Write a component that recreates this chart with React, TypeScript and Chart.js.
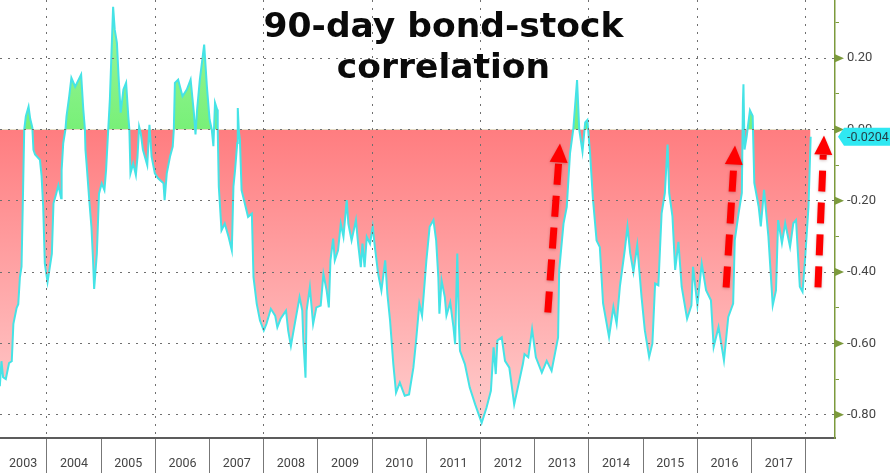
import React, { useRef, useEffect } from 'react';
import { Chart, registerables } from 'chart.js';

Chart.register(...registerables);

const WIDTH = 890;
const HEIGHT = 473;

// dates as decimal years
const dates = [
  2003.13, 2003.16, 2003.19, 2003.24, 2003.30, 2003.35, 2003.38, 2003.44, 2003.47, 2003.50, 2003.53, 2003.56, 2003.58,
  2003.61, 2003.66, 2003.69, 2003.73, 2003.75, 2003.78, 2003.87, 2003.90, 2003.93, 2003.96, 2004.01, 2004.09, 2004.12,
  2004.17, 2004.21, 2004.26, 2004.27, 2004.30, 2004.34, 2004.36, 2004.41, 2004.45, 2004.52, 2004.63, 2004.67, 2004.70,
  2004.71, 2004.73, 2004.78, 2004.82, 2004.85, 2004.87, 2004.92, 2004.96, 2005.01, 2005.06, 2005.09, 2005.13, 2005.16,
  2005.22, 2005.25, 2005.29, 2005.32, 2005.36, 2005.41, 2005.46, 2005.50, 2005.52, 2005.54, 2005.59, 2005.64, 2005.67,
  2005.70, 2005.73, 2005.77, 2005.85, 2005.89, 2005.93, 2005.99, 2006.05, 2006.15, 2006.17, 2006.21, 2006.27, 2006.32,
  2006.34, 2006.36, 2006.42, 2006.50, 2006.58, 2006.65, 2006.71, 2006.74, 2006.77, 2006.82, 2006.90, 2006.95, 2007.00,
  2007.04, 2007.07, 2007.10, 2007.14, 2007.15, 2007.17, 2007.22, 2007.28, 2007.35, 2007.41, 2007.44, 2007.47, 2007.51,
  2007.52, 2007.54, 2007.56, 2007.59, 2007.62, 2007.71, 2007.78, 2007.81, 2007.87, 2007.93, 2008.00, 2008.05, 2008.13,
  2008.21, 2008.25, 2008.31, 2008.41, 2008.45, 2008.50, 2008.56, 2008.66, 2008.71, 2008.73, 2008.77, 2008.79, 2008.85,
  2008.91, 2008.97, 2009.05, 2009.10, 2009.16, 2009.20, 2009.23, 2009.28, 2009.31, 2009.37, 2009.42, 2009.47, 2009.53,
  2009.56, 2009.62, 2009.70, 2009.74, 2009.79, 2009.82, 2009.86, 2009.90, 2009.96, 2010.01, 2010.05, 2010.11, 2010.17,
  2010.24, 2010.28, 2010.33, 2010.39, 2010.44, 2010.51, 2010.60, 2010.68, 2010.76, 2010.81, 2010.87, 2010.92, 2011.00,
  2011.06, 2011.13, 2011.18, 2011.22, 2011.24, 2011.28, 2011.34, 2011.37, 2011.44, 2011.50, 2011.53, 2011.57, 2011.60,
  2011.62, 2011.71, 2011.80, 2011.90, 2012.02, 2012.11, 2012.19, 2012.24, 2012.28, 2012.31, 2012.39, 2012.45, 2012.53,
  2012.62, 2012.70, 2012.78, 2012.81, 2012.88, 2012.95, 2013.02, 2013.13, 2013.22, 2013.31, 2013.37, 2013.43, 2013.45,
  2013.53, 2013.59, 2013.65, 2013.71, 2013.78, 2013.82, 2013.88, 2013.93, 2013.97, 2014.02, 2014.07, 2014.14, 2014.20,
  2014.26, 2014.37, 2014.45, 2014.51, 2014.57, 2014.66, 2014.71, 2014.76, 2014.82, 2014.89, 2014.97, 2015.03, 2015.11,
  2015.17, 2015.22, 2015.28, 2015.34, 2015.40, 2015.45, 2015.48, 2015.54, 2015.59, 2015.65, 2015.71, 2015.81, 2015.89,
  2015.92, 2016.00, 2016.08, 2016.16, 2016.25, 2016.30, 2016.39, 2016.45, 2016.49, 2016.57, 2016.66, 2016.69, 2016.76,
  2016.82, 2016.84, 2016.85, 2016.87, 2016.91, 2016.97, 2017.02, 2017.05, 2017.13, 2017.17, 2017.23, 2017.31, 2017.39,
  2017.45, 2017.49, 2017.56, 2017.62, 2017.71, 2017.77, 2017.82, 2017.89, 2017.94, 2017.99, 2018.05, 2018.09,
];

const corr = [
  -0.72, -0.65, -0.695, -0.70, -0.655, -0.65, -0.545, -0.50, -0.49, -0.415, -0.385, -0.16, 0,
  0.037, 0.064, 0.03, 0.005, -0.057, -0.07, -0.085, -0.13, -0.217, -0.376, -0.428, -0.348, -0.207,
  -0.18, -0.156, -0.193, -0.114, -0.038, 0, 0.037, 0.093, 0.145, 0.12, 0.154, 0.056, 0,
  -0.057, -0.095, -0.198, -0.273, -0.367, -0.447, -0.348, -0.18, -0.151, -0.17, -0.114, 0, 0.084,
  0.344, 0.28, 0.243, 0.15, 0.047, 0.112, 0.131, 0.037, 0, -0.123, -0.095, -0.128, -0.076,
  0.008, -0.01, -0.057, -0.10, 0.013, -0.076, -0.123, -0.137, -0.151, -0.198, -0.123, -0.076, -0.048,
  0, 0.131, 0.14, 0.093, 0.112, 0.14, 0.047, -0.014, 0.056, 0.14, 0.238, 0.121, 0.028,
  0, -0.047, 0.075, 0.056, 0, -0.16, -0.283, -0.264, -0.301, -0.339, -0.16, -0.114, -0.038,
  0.06, -0.005, -0.03, -0.17, -0.189, -0.245, -0.236, -0.414, -0.489, -0.536, -0.564, -0.545, -0.503,
  -0.522, -0.555, -0.531, -0.508, -0.564, -0.607, -0.555, -0.47, -0.508, -0.592, -0.696, -0.508, -0.442,
  -0.546, -0.499, -0.494, -0.405, -0.452, -0.499, -0.367, -0.306, -0.367, -0.339, -0.264, -0.301, -0.198,
  -0.264, -0.311, -0.254, -0.32, -0.386, -0.32, -0.386, -0.301, -0.32, -0.273, -0.33, -0.405, -0.452,
  -0.367, -0.461, -0.536, -0.658, -0.738, -0.71, -0.747, -0.743, -0.668, -0.592, -0.489, -0.522, -0.367,
  -0.273, -0.254, -0.311, -0.414, -0.517, -0.423, -0.47, -0.522, -0.485, -0.555, -0.602, -0.348, -0.546,
  -0.621, -0.658, -0.724, -0.771, -0.823, -0.78, -0.733, -0.611, -0.686, -0.592, -0.583, -0.649, -0.668,
  -0.771, -0.715, -0.658, -0.63, -0.639, -0.56, -0.639, -0.682, -0.649, -0.677, -0.63, -0.583, -0.395,
  -0.264, -0.217, -0.067, 0, 0.139, 0, -0.062, 0.02, 0.027, -0.067, -0.189, -0.311, -0.33,
  -0.488, -0.582, -0.498, -0.545, -0.441, -0.338, -0.272, -0.347, -0.40, -0.324, -0.47, -0.563, -0.638,
  -0.60, -0.432, -0.437, -0.235, -0.178, -0.042, -0.178, -0.244, -0.394, -0.315, -0.441, -0.531, -0.493,
  -0.385, -0.493, -0.376, -0.451, -0.479, -0.61, -0.554, -0.61, -0.648, -0.526, -0.488, -0.31, -0.235,
  -0.178, 0.075, 0.127, -0.056, -0.019, 0.054, 0.038, -0.15, -0.216, -0.272, -0.169, -0.30, -0.493,
  -0.451, -0.254, -0.319, -0.263, -0.329, -0.263, -0.254, -0.441, -0.455, -0.357, -0.216, -0.0204,
];

const years = [2003, 2004, 2005, 2006, 2007, 2008, 2009, 2010, 2011, 2012, 2013, 2014, 2015, 2016, 2017];
const yearLines = [2004, 2005, 2006, 2007, 2008, 2009, 2010, 2011, 2012, 2013, 2014, 2015, 2016, 2017, 2018];
const yLabelTicks = [-0.8, -0.6, -0.4, -0.2, 0, 0.2];
const ySmallTicks = [-0.7, -0.5, -0.3, -0.1, 0.1, 0.3];

const titleLines = ['90-day bond-stock', 'correlation'];
const lastLabel = '-0.0204';

// [from date, from value, to date, to value]
const arrows = [
  [2013.24, -0.513, 2013.465, -0.039],
  [2016.53, -0.443, 2016.694, -0.045],
  [2018.225, -0.443, 2018.336, -0.017],
];

const AXIS_GREEN = '#7c9a3c';
const TICK_TEXT = '#444444';
const DOTS = '#6f6f6f';

// green triangles on the labelled ticks, arrows, title and the last value tag
const overlayPlugin = {
  id: 'overlay',
  afterDraw(chart: any) {
    const { ctx, scales } = chart;
    const x = scales.x;
    const y = scales.y;
    const right = chart.chartArea.right;

    ctx.save();
    ctx.fillStyle = AXIS_GREEN;
    yLabelTicks.forEach((v) => {
      const py = y.getPixelForValue(v);
      ctx.beginPath();
      ctx.moveTo(right, py - 4);
      ctx.lineTo(right + 9, py);
      ctx.lineTo(right, py + 4);
      ctx.closePath();
      ctx.fill();
    });

    arrows.forEach(([d0, v0, d1, v1]) => {
      const x0 = x.getPixelForValue(d0);
      const y0 = y.getPixelForValue(v0);
      const x1 = x.getPixelForValue(d1);
      const y1 = y.getPixelForValue(v1);
      const ang = Math.atan2(y1 - y0, x1 - x0);
      const headLen = 19;
      const bx = x1 - Math.cos(ang) * headLen;
      const by = y1 - Math.sin(ang) * headLen;
      ctx.save();
      ctx.shadowColor = 'rgba(90,0,0,0.25)';
      ctx.shadowBlur = 3;
      ctx.shadowOffsetY = 1;
      ctx.strokeStyle = '#ff0000';
      ctx.lineWidth = 7;
      ctx.setLineDash([21, 11]);
      ctx.beginPath();
      ctx.moveTo(x0, y0);
      ctx.lineTo(bx, by);
      ctx.stroke();
      ctx.setLineDash([]);
      ctx.fillStyle = '#ff0000';
      ctx.beginPath();
      ctx.moveTo(x1, y1);
      ctx.lineTo(bx - Math.sin(ang) * 9, by + Math.cos(ang) * 9);
      ctx.lineTo(bx + Math.sin(ang) * 9, by - Math.cos(ang) * 9);
      ctx.closePath();
      ctx.fill();
      ctx.restore();
    });

    // last value tag
    const tagY = y.getPixelForValue(corr[corr.length - 1]);
    ctx.fillStyle = '#2fe8f2';
    ctx.beginPath();
    ctx.moveTo(right + 3, tagY);
    ctx.lineTo(right + 9, tagY - 9);
    ctx.lineTo(WIDTH, tagY - 9);
    ctx.lineTo(WIDTH, tagY + 9);
    ctx.lineTo(right + 9, tagY + 9);
    ctx.closePath();
    ctx.fill();
    ctx.fillStyle = '#22414a';
    ctx.font = '12.5px Roboto';
    ctx.textAlign = 'left';
    ctx.textBaseline = 'middle';
    ctx.fillText(lastLabel, right + 12, tagY + 1);

    // title
    ctx.fillStyle = '#0a0a0a';
    ctx.font = 'bold 34.5px "DejaVu Sans"';
    ctx.textAlign = 'center';
    ctx.textBaseline = 'alphabetic';
    titleLines.forEach((line, i) => ctx.fillText(line, 443.5, 37 + i * 41));
    ctx.restore();
  },
};

const App: React.FC = () => {
  const chartRef = useRef<HTMLCanvasElement>(null);

  useEffect(() => {
    if (!chartRef.current) return;
    const ctx = chartRef.current.getContext('2d');
    if (!ctx) return;

    const redFill = ctx.createLinearGradient(0, 130, 0, 420);
    redFill.addColorStop(0, '#ff7d80');
    redFill.addColorStop(1, '#ffcccc');
    const greenFill = ctx.createLinearGradient(0, 0, 0, 130);
    greenFill.addColorStop(0, '#a0f5a0');
    greenFill.addColorStop(1, '#78f078');

    const chart = new Chart(ctx, {
      type: 'line',
      data: {
        datasets: [{
          data: dates.map((d, i) => ({ x: d, y: corr[i] })),
          borderColor: '#45e3e6',
          borderWidth: 2,
          pointRadius: 0,
          tension: 0,
          fill: { target: { value: 0 }, above: greenFill, below: redFill },
        }],
      },
      options: {
        responsive: false,
        animation: false,
        layout: { padding: 0 },
        plugins: { legend: { display: false }, tooltip: { enabled: false } },
        scales: {
          x: {
            type: 'linear',
            min: 2003.133,
            max: 2018.539,
            afterBuildTicks: (scale: any) => {
              scale.ticks = [
                ...years.map((y) => ({ value: y + (y === 2003 ? 0.56 : 0.5) })),
                ...yearLines.map((y) => ({ value: y })),
              ].sort((a, b) => a.value - b.value);
            },
            afterFit: (scale: any) => {
              scale.height = HEIGHT - 438;
              scale.paddingLeft = 0;
              scale.paddingRight = 0;
            },
            // border z above the grid layer, it needs the grid's computed position
            border: { display: true, color: '#5c5c5c', width: 2, dash: [2, 6], z: 2 },
            grid: {
              z: 1,
              lineWidth: 1,
              tickLength: 35,
              tickWidth: 1,
              tickBorderDash: [],
              color: (c: any) => (c.tick && Number.isInteger(c.tick.value) && c.tick.value % 2 === 0 ? DOTS : 'transparent'),
              tickColor: (c: any) => (c.tick && Number.isInteger(c.tick.value) ? '#777777' : 'transparent'),
            },
            ticks: {
              autoSkip: false,
              maxRotation: 0,
              padding: -17,
              color: TICK_TEXT,
              font: { family: 'Roboto', size: 12.5 },
              callback: (v: any) => (Number.isInteger(v) ? '' : String(Math.floor(v))),
            },
          },
          y: {
            type: 'linear',
            position: 'right',
            min: -0.8654,
            max: 0.3633,
            afterBuildTicks: (scale: any) => {
              scale.ticks = [...yLabelTicks, ...ySmallTicks]
                .sort((a, b) => a - b)
                .map((v) => ({ value: v }));
            },
            afterFit: (scale: any) => {
              scale.width = WIDTH - 835;
              scale.paddingTop = 0;
              scale.paddingBottom = 0;
            },
            border: { display: true, color: AXIS_GREEN, width: 1.5, dash: [2, 6], z: 2 },
            grid: {
              z: 1,
              tickLength: 4,
              color: (c: any) => (c.tick && yLabelTicks.includes(c.tick.value) ? DOTS : 'transparent'),
              tickColor: AXIS_GREEN,
              tickBorderDash: [],
            },
            ticks: {
              autoSkip: false,
              padding: 8,
              color: TICK_TEXT,
              font: { family: 'Roboto', size: 13 },
              callback: (v: any) => (yLabelTicks.includes(v) ? Number(v).toFixed(2) : ''),
            },
          },
        },
      },
      plugins: [overlayPlugin],
    } as any);

    return () => {
      chart.destroy();
    };
  }, []);

  return (
    <div style={{ position: 'absolute', left: 0, top: 0, width: WIDTH, height: HEIGHT, background: '#ffffff' }}>
      <canvas ref={chartRef} width={WIDTH} height={HEIGHT} style={{ display: 'block' }} />
    </div>
  );
};

export default App;
